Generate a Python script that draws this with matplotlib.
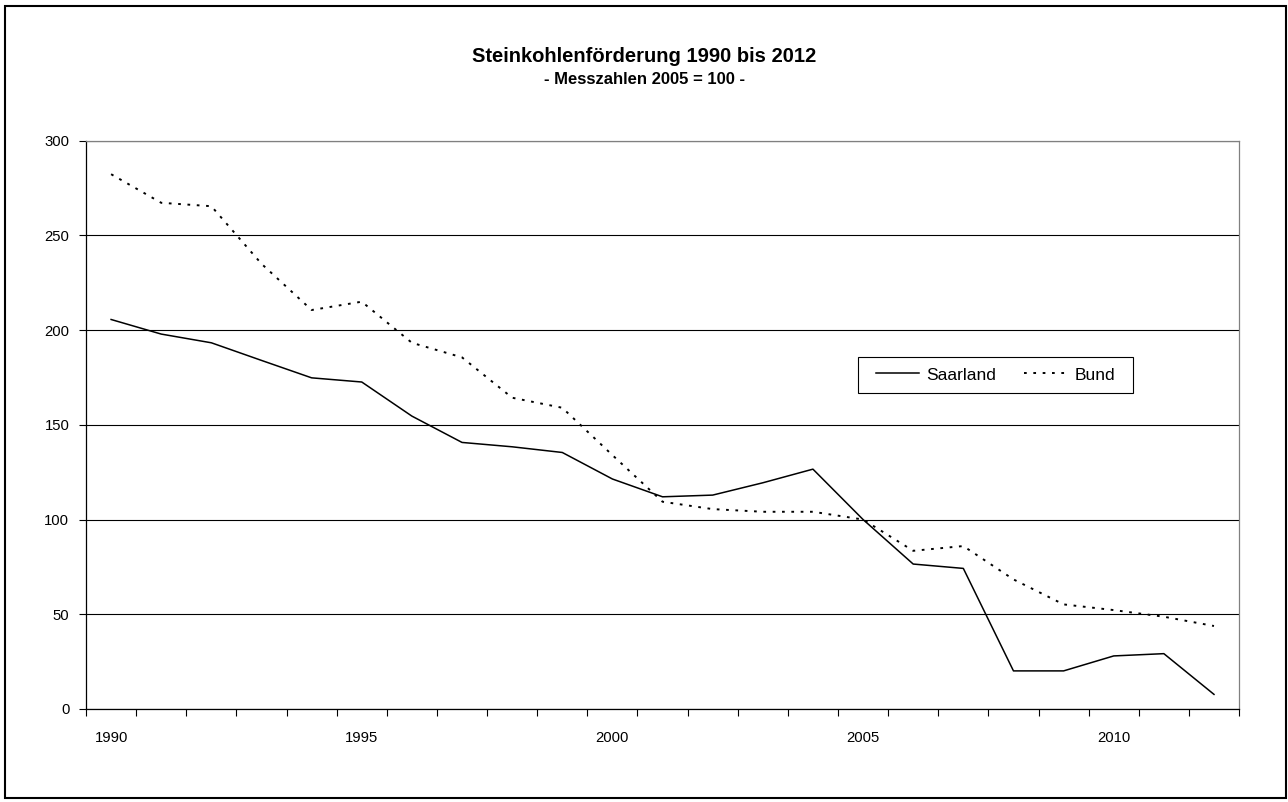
# ── Steinkohlenförderung 1990 bis 2012 (Messzahlen 2005 = 100) ──
import matplotlib
matplotlib.use("Agg")
import matplotlib.pyplot as plt
from matplotlib.patches import Rectangle

plt.rcParams["font.family"] = ["Liberation Sans", "DejaVu Sans"]

# ── Daten ────────────────────────────────────────────────────
jahre = list(range(1990, 2013))
saarland = [205.6, 197.9, 193.3, 184.0, 174.8, 172.6, 154.6, 140.7, 138.4, 135.4,
            121.4, 112.0, 112.9, 119.4, 126.6, 100.0, 76.5, 74.2, 20.1, 20.1,
            28.0, 29.2, 7.7]
bund = [282.3, 267.2, 265.4, 235.0, 210.6, 215.0, 193.3, 185.6, 164.3, 159.0,
        134.0, 109.4, 105.5, 104.1, 104.1, 100.0, 83.5, 86.0, 68.4, 55.2,
        52.2, 48.7, 43.8]
label_jahre = [1990, 1995, 2000, 2005, 2010]
y_ticks = [0, 50, 100, 150, 200, 250, 300]

# ── Grafik ───────────────────────────────────────────────────
fig = plt.figure(figsize=(12.88, 8.02), dpi=100)
ax = fig.add_axes([0.0668, 0.116, 0.8952, 0.7086])

pos = [j - 1990 for j in jahre]
ax.plot(pos, saarland, color="black", lw=1.1, label="Saarland")
ax.plot(pos, bund, color="black", lw=1.4, linestyle=(0, (1.4, 3.4)), label="Bund")

ax.set_xlim(-0.5, len(jahre) - 0.5)
ax.set_ylim(0, 300)

# y-Achse
ax.set_yticks(y_ticks)
ax.yaxis.grid(True, color="black", lw=0.8)
ax.set_axisbelow(True)
ax.tick_params(axis="y", direction="out", length=5, width=0.8, labelsize=10.7, pad=7)

# x-Achse: Striche zwischen den Kategorien, Beschriftung in der Mitte
ax.set_xticks([j - 1990 for j in label_jahre])
ax.set_xticklabels([str(j) for j in label_jahre])
ax.set_xticks([k - 0.5 for k in range(len(jahre) + 1)], minor=True)
ax.tick_params(axis="x", which="major", length=0, labelsize=10.7, pad=16)
ax.tick_params(axis="x", which="minor", direction="out", length=5, width=0.8)

for s in ["left", "bottom"]:
    ax.spines[s].set_color("black")
    ax.spines[s].set_linewidth(0.9)
for s in ["top", "right"]:
    ax.spines[s].set_color("#808080")
    ax.spines[s].set_linewidth(0.9)

# Legende (Rahmen separat, damit links/rechts mehr Platz bleibt)
ax.legend(loc="center left", bbox_to_anchor=(0.6852, 0.5877), ncol=2,
          frameon=False, fontsize=12.5, handlelength=2.5, handletextpad=0.4,
          columnspacing=1.6, borderpad=0, borderaxespad=0)
ax.add_patch(Rectangle((0.6696, 0.5560), 0.2385, 0.0633, transform=ax.transAxes,
                       fill=True, facecolor="white", edgecolor="black", lw=0.8,
                       zorder=4))

# Titel
fig.text(0.5, 1 - 56.5 / 802, "Steinkohlenförderung 1990 bis 2012", ha="center",
         va="center", fontsize=14.5, fontweight="bold")
fig.text(0.5, 1 - 79 / 802, "- Messzahlen 2005 = 100 -", ha="center",
         va="center", fontsize=12, fontweight="bold")

# Rahmen um das ganze Diagramm
fig.patches.append(Rectangle((5 / 1288, 4 / 802), 1281 / 1288, 792 / 802,
                             transform=fig.transFigure, fill=False,
                             edgecolor="black", lw=1.5))

plt.savefig("out.png", dpi=100)
